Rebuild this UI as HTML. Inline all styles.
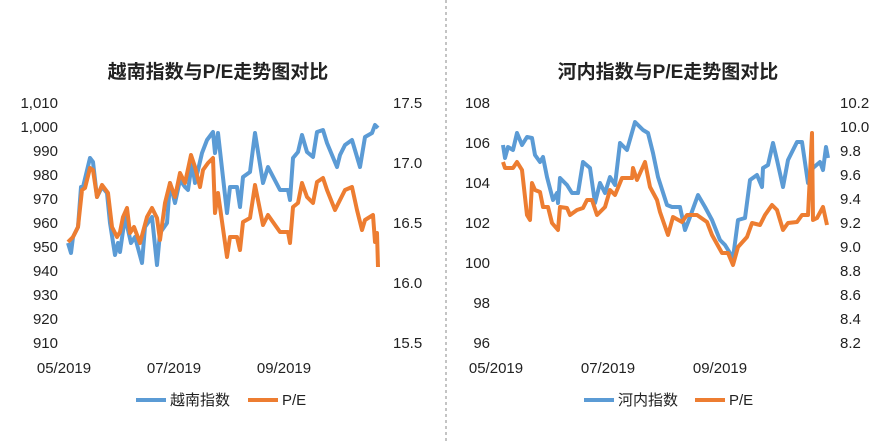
<!DOCTYPE html><html><head><style>body{margin:0;background:#fff}svg text{font-family:"Liberation Sans","Noto Sans CJK SC",sans-serif;font-size:15px;fill:#222}.t{font-size:19px;font-weight:bold}</style></head><body>
<svg width="892" height="443" xmlns="http://www.w3.org/2000/svg">
<line x1="446" y1="0" x2="446" y2="443" stroke="#888" stroke-dasharray="3,3"/>
<text class="t" x="218" y="78" text-anchor="middle">越南指数与P/E走势图对比</text>
<text class="t" x="668" y="78" text-anchor="middle">河内指数与P/E走势图对比</text>
<g text-anchor="end">
<text x="58" y="108">1,010</text><text x="58" y="132">1,000</text><text x="58" y="156">990</text><text x="58" y="180">980</text><text x="58" y="204">970</text><text x="58" y="228">960</text><text x="58" y="252">950</text><text x="58" y="276">940</text><text x="58" y="300">930</text><text x="58" y="324">920</text><text x="58" y="348">910</text>
<text x="490" y="108">108</text><text x="490" y="148">106</text><text x="490" y="188">104</text><text x="490" y="228">102</text><text x="490" y="268">100</text><text x="490" y="308">98</text><text x="490" y="348">96</text>
</g>
<g>
<text x="393" y="108">17.5</text><text x="393" y="168">17.0</text><text x="393" y="228">16.5</text><text x="393" y="288">16.0</text><text x="393" y="348">15.5</text>
<text x="840" y="108">10.2</text><text x="840" y="132">10.0</text><text x="840" y="156">9.8</text><text x="840" y="180">9.6</text><text x="840" y="204">9.4</text><text x="840" y="228">9.2</text><text x="840" y="252">9.0</text><text x="840" y="276">8.8</text><text x="840" y="300">8.6</text><text x="840" y="324">8.4</text><text x="840" y="348">8.2</text>
</g>
<g text-anchor="middle">
<text x="64" y="373">05/2019</text><text x="174" y="373">07/2019</text><text x="284" y="373">09/2019</text>
<text x="496" y="373">05/2019</text><text x="608" y="373">07/2019</text><text x="720" y="373">09/2019</text>
</g>
<g fill="none" stroke-width="4" stroke-linejoin="round">
<polyline stroke="#5b9bd5" points="68,243 71,253 73,237 78,227 81,187 83,187 90,158 93,162 97,197 102,187 107,193 110,223 115,255 118,243 120,252 125,217 131,243 135,237 142,263 145,227 152,217 157,265 160,233 167,223 170,183 175,203 180,180 185,187 188,190 192,163 195,183 202,153 207,140 213,132 215,153 218,133 227,213 230,187 237,187 240,207 243,177 250,172 255,133 263,183 268,167 280,190 288,190 290,200 293,158 298,152 302,135 307,152 313,157 317,132 323,130 327,143 337,167 340,155 345,145 352,140 360,167 365,137 372,133 375,125 378,128"/>
<polyline stroke="#ed7d31" points="68,242 73,237 78,227 82,190 85,188 90,168 93,170 97,197 102,185 108,193 112,227 117,237 120,232 123,217 127,208 130,233 134,227 140,243 147,217 152,208 157,218 160,240 165,203 170,183 175,197 180,173 185,183 191,155 195,167 200,187 203,170 208,163 213,158 215,213 218,193 227,257 230,237 237,237 240,250 243,222 250,218 255,185 263,225 268,215 280,232 288,232 290,243 293,207 298,203 302,183 307,197 313,203 317,182 323,178 327,190 335,210 340,200 345,190 352,187 357,210 362,230 365,220 373,215 375,242 377,233 378,267"/>
<polyline stroke="#5b9bd5" points="503,145 505,158 508,147 513,150 517,133 522,145 527,137 532,138 535,155 540,162 543,157 547,177 553,200 557,193 558,203 560,178 567,185 572,193 578,193 583,162 590,168 595,203 600,183 605,193 610,177 615,185 620,143 627,150 635,122 643,130 648,133 653,153 658,177 667,205 672,207 680,207 685,230 690,217 698,195 705,207 712,220 720,240 725,245 733,258 738,220 745,218 750,180 757,175 762,187 763,168 768,165 773,143 777,160 783,187 788,160 797,142 802,142 808,183 813,168 820,162 823,170 826,147 828,158"/>
<polyline stroke="#ed7d31" points="503,162 505,168 513,168 517,162 522,170 527,215 530,220 532,183 535,190 540,192 543,207 548,207 552,223 558,230 560,207 567,208 570,215 577,210 583,208 587,200 592,200 597,215 605,207 610,190 615,195 622,178 632,178 633,168 637,180 645,162 650,187 657,200 660,212 668,235 673,217 682,222 687,215 697,215 707,222 712,235 722,253 728,253 733,265 738,247 747,237 752,223 760,225 765,215 772,205 777,210 783,230 788,223 797,222 802,215 808,215 812,133 813,220 817,218 823,207 827,225"/>
<line x1="136" y1="400" x2="166" y2="400" stroke="#5b9bd5"/>
<line x1="248" y1="400" x2="278" y2="400" stroke="#ed7d31"/>
<line x1="584" y1="400" x2="614" y2="400" stroke="#5b9bd5"/>
<line x1="695" y1="400" x2="725" y2="400" stroke="#ed7d31"/>
</g>
<text x="170" y="405">越南指数</text><text x="282" y="405">P/E</text>
<text x="618" y="405">河内指数</text><text x="729" y="405">P/E</text>
</svg></body></html>
